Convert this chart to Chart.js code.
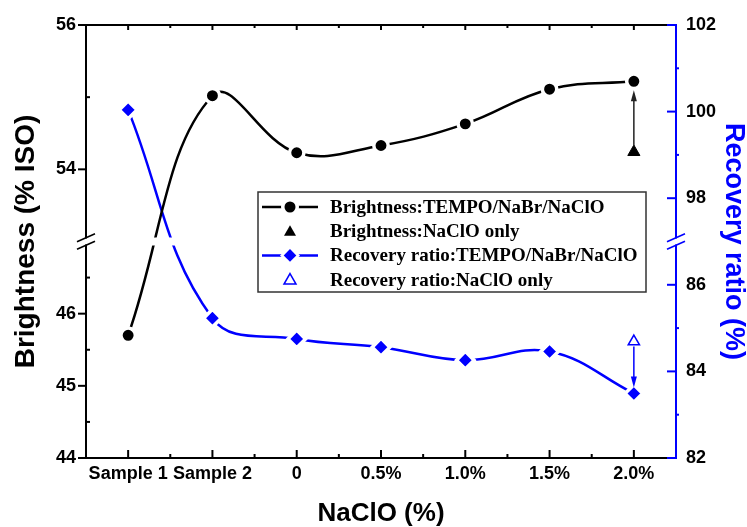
<!DOCTYPE html>
<html>
<head>
<meta charset="utf-8">
<script src="https://cdn.jsdelivr.net/npm/chart.js@4.4.1/dist/chart.umd.min.js"></script>
<style>
  html, body { margin: 0; padding: 0; background: #fff; }
  canvas { display: block; }
</style>
</head>
<body>
<canvas id="grafico" width="747" height="527"></canvas>
<script>
// categorías del eje X
const categorias = ['Sample 1', 'Sample 2', '0', '0.5%', '1.0%', '1.5%', '2.0%'];
// Brightness (% ISO)
const brilloTempo = [45.7, 55.02, 54.23, 54.33, 54.63, 55.11, 55.22];
const brilloNaClO = [null, null, null, null, null, null, 54.24];
// Recovery ratio (%)
const recuperacionTempo = [100.04, 85.23, 84.75, 84.56, 84.26, 84.46, 83.49];
const recuperacionNaClO = [null, null, null, null, null, null, 84.69];
// marcas de los ejes
const ticksIzq = [44, 45, 46, 54, 56];
const ticksIzqMenores = [44.5, 45.5, 46.5, 55];
const ticksDer = [82, 84, 86, 98, 100, 102];
const ticksDerMenores = [83, 85, 99, 101];
// tramos de los ejes cortados
const tramoIzq = [[44, 47], [53, 56]];
const tramoDer = [[82, 87], [97, 102]];

const AZUL = '#0000ff';

function aEje(v, tramos) {
    if (v === null) return null;
    const [a, b] = tramos;
    return v <= a[1] ? v - a[0] : (a[1] - a[0]) + (v - b[0]);
}
function desdeEje(d, tramos) {
    const [a, b] = tramos;
    const corte = a[1] - a[0];
    return d <= corte + 1e-9 ? a[0] + d : b[0] + (d - corte);
}
function largo(tramos) {
    return (tramos[0][1] - tramos[0][0]) + (tramos[1][1] - tramos[1][0]);
}

function linea(ctx, x1, y1, x2, y2) {
    ctx.beginPath();
    ctx.moveTo(x1, y1);
    ctx.lineTo(x2, y2);
    ctx.stroke();
}
function flecha(ctx, x, yDesde, yPunta, color) {
    const dir = yPunta < yDesde ? -1 : 1;
    ctx.strokeStyle = color;
    ctx.fillStyle = color;
    ctx.lineWidth = 1.5;
    linea(ctx, x, yDesde, x, yPunta - dir * 8);
    ctx.beginPath();
    ctx.moveTo(x, yPunta);
    ctx.lineTo(x - 3, yPunta - dir * 11);
    ctx.lineTo(x + 3, yPunta - dir * 11);
    ctx.closePath();
    ctx.fill();
}

// ejes, marcas, corte y flechas
const pluginEjes = {
    id: 'ejes',
    afterDatasetsDraw(chart) {
        const { ctx, chartArea: ca, scales: { x, y, y1 } } = chart;
        const yCorte = y.getPixelForValue(tramoIzq[0][1] - tramoIzq[0][0]);
        ctx.save();
        // hueco del corte
        ctx.fillStyle = '#fff';
        ctx.fillRect(ca.left + 1, yCorte - 4, ca.width - 2, 8);

        // flechas
        const i = categorias.length - 1;
        const px = x.getPixelForValue(i);
        const yCirc = y.getPixelForValue(aEje(brilloTempo[i], tramoIzq));
        const yTri = y.getPixelForValue(aEje(brilloNaClO[i], tramoIzq));
        flecha(ctx, px, yTri - 6, yCirc + 9, '#222');
        const yDiam = y1.getPixelForValue(aEje(recuperacionTempo[i], tramoDer));
        const yTri2 = y1.getPixelForValue(aEje(recuperacionNaClO[i], tramoDer));
        flecha(ctx, px, yTri2 + 5, yDiam - 6, AZUL);

        // marco
        ctx.lineWidth = 2;
        ctx.lineCap = 'square';
        ctx.strokeStyle = '#000';
        linea(ctx, ca.left, ca.top, ca.right, ca.top);
        linea(ctx, ca.left, ca.bottom, ca.right, ca.bottom);
        linea(ctx, ca.left, ca.top, ca.left, yCorte - 4);
        linea(ctx, ca.left, yCorte + 4, ca.left, ca.bottom);
        ctx.lineCap = 'butt';

        // marcas X
        for (let k = 0; k < categorias.length; k++) {
            const p = x.getPixelForValue(k);
            linea(ctx, p, ca.bottom, p, ca.bottom - 8);
            linea(ctx, p, ca.top, p, ca.top + 5);
            if (k > 0) {
                const m = x.getPixelForValue(k - 0.5);
                linea(ctx, m, ca.bottom, m, ca.bottom - 4);
                linea(ctx, m, ca.top, m, ca.top + 3);
            }
        }
        // marcas Y izquierda
        ticksIzq.forEach(v => {
            const p = y.getPixelForValue(aEje(v, tramoIzq));
            linea(ctx, ca.left - 8, p, ca.left, p);
        });
        ticksIzqMenores.forEach(v => {
            const p = y.getPixelForValue(aEje(v, tramoIzq));
            linea(ctx, ca.left, p, ca.left + 4, p);
        });

        // eje derecho azul
        ctx.strokeStyle = AZUL;
        ctx.lineCap = 'square';
        linea(ctx, ca.right, ca.top, ca.right, yCorte - 4);
        linea(ctx, ca.right, yCorte + 4, ca.right, ca.bottom);
        ctx.lineCap = 'butt';
        ticksDer.forEach(v => {
            const p = y1.getPixelForValue(aEje(v, tramoDer));
            linea(ctx, ca.right - 9, p, ca.right, p);
        });
        ticksDerMenores.forEach(v => {
            const p = y1.getPixelForValue(aEje(v, tramoDer));
            linea(ctx, ca.right, p, ca.right + 3, p);
        });

        // barras del corte
        ctx.lineWidth = 1.5;
        [[ca.left, '#000'], [ca.right, AZUL]].forEach(([ax, col]) => {
            ctx.strokeStyle = col;
            [-3.7, 3.7].forEach(off => {
                linea(ctx, ax - 9, yCorte + off + 4, ax + 9, yCorte + off - 4);
            });
        });
        ctx.restore();
    }
};

// leyenda dibujada a mano
function marcador(ctx, tipo, x, y) {
    ctx.save();
    ctx.lineWidth = 1.5;
    if (tipo === 'circulo') {
        ctx.fillStyle = '#fff';
        ctx.beginPath(); ctx.arc(x, y, 9, 0, Math.PI * 2); ctx.fill();
        ctx.fillStyle = '#000';
        ctx.beginPath(); ctx.arc(x, y, 5.5, 0, Math.PI * 2); ctx.fill();
    } else if (tipo === 'diamante') {
        ctx.fillStyle = '#fff';
        ctx.beginPath(); ctx.moveTo(x, y - 10); ctx.lineTo(x + 10, y); ctx.lineTo(x, y + 10); ctx.lineTo(x - 10, y); ctx.fill();
        ctx.fillStyle = AZUL;
        ctx.beginPath(); ctx.moveTo(x, y - 6.3); ctx.lineTo(x + 6.3, y); ctx.lineTo(x, y + 6.3); ctx.lineTo(x - 6.3, y); ctx.fill();
    } else {
        ctx.beginPath();
        ctx.moveTo(x, y - 6); ctx.lineTo(x + 6, y + 4.5); ctx.lineTo(x - 6, y + 4.5); ctx.closePath();
        if (tipo === 'triangulo') { ctx.fillStyle = '#000'; ctx.fill(); }
        else { ctx.fillStyle = '#fff'; ctx.fill(); ctx.strokeStyle = AZUL; ctx.stroke(); }
    }
    ctx.restore();
}
const filasLeyenda = [
    ['Brightness:TEMPO/NaBr/NaClO', '#000', true, 'circulo'],
    ['Brightness:NaClO only', '#000', false, 'triangulo'],
    ['Recovery ratio:TEMPO/NaBr/NaClO', AZUL, true, 'diamante'],
    ['Recovery ratio:NaClO only', AZUL, false, 'abierto']
];
const pluginLeyenda = {
    id: 'leyenda',
    afterDraw(chart) {
        const ctx = chart.ctx;
        const caja = { x: 258, y: 192, w: 388, h: 100 };
        ctx.save();
        ctx.fillStyle = '#fff';
        ctx.fillRect(caja.x, caja.y, caja.w, caja.h);
        ctx.strokeStyle = '#333';
        ctx.lineWidth = 1.5;
        ctx.strokeRect(caja.x, caja.y, caja.w, caja.h);
        ctx.font = 'bold 19px "Liberation Serif", "Times New Roman", serif';
        ctx.textBaseline = 'middle';
        filasLeyenda.forEach(([texto, color, conLinea, tipo], i) => {
            const yf = caja.y + 15 + i * 24.2;
            if (conLinea) {
                ctx.strokeStyle = color;
                ctx.lineWidth = 2.5;
                linea(ctx, caja.x + 4, yf, caja.x + 60, yf);
            }
            marcador(ctx, tipo, caja.x + 32, yf);
            ctx.fillStyle = '#000';
            ctx.fillText(texto, caja.x + 72, yf + 1);
        });
        ctx.restore();
    }
};

Chart.defaults.font.family = '"Liberation Sans", Arial, sans-serif';
Chart.defaults.font.weight = 'bold';
Chart.defaults.color = '#000';

const ctx = document.getElementById('grafico').getContext('2d');
new Chart(ctx, {
    type: 'line',
    data: {
        labels: categorias,
        datasets: [{
            label: 'Brightness:TEMPO/NaBr/NaClO',
            data: brilloTempo.map(v => aEje(v, tramoIzq)),
            yAxisID: 'y',
            borderColor: '#000',
            borderWidth: 2.5,
            tension: 0.4,
            pointStyle: 'circle',
            pointRadius: 7.2,
            pointBackgroundColor: '#000',
            pointBorderColor: '#fff',
            pointBorderWidth: 3.5
        }, {
            label: 'Brightness:NaClO only',
            data: brilloNaClO.map(v => aEje(v, tramoIzq)),
            yAxisID: 'y',
            showLine: false,
            pointStyle: 'triangle',
            pointRadius: 7,
            pointBackgroundColor: '#000',
            pointBorderColor: '#000',
            pointBorderWidth: 1
        }, {
            label: 'Recovery ratio:TEMPO/NaBr/NaClO',
            data: recuperacionTempo.map(v => aEje(v, tramoDer)),
            yAxisID: 'y1',
            borderColor: AZUL,
            borderWidth: 2.5,
            tension: 0.4,
            pointStyle: 'rectRot',
            pointRadius: 8.8,
            pointBackgroundColor: AZUL,
            pointBorderColor: '#fff',
            pointBorderWidth: 3.5
        }, {
            label: 'Recovery ratio:NaClO only',
            data: recuperacionNaClO.map(v => aEje(v, tramoDer)),
            yAxisID: 'y1',
            showLine: false,
            pointStyle: 'triangle',
            pointRadius: 6.5,
            pointBackgroundColor: '#fff',
            pointBorderColor: AZUL,
            pointBorderWidth: 1.5
        }]
    },
    options: {
        responsive: false,
        animation: false,
        layout: { padding: { top: 25, left: 0, right: 0, bottom: 0 } },
        plugins: { legend: { display: false }, tooltip: { enabled: false } },
        scales: {
            x: {
                type: 'category',
                offset: true,
                grid: { display: false, drawTicks: false },
                border: { display: false },
                ticks: { font: { size: 18, weight: 'bold' }, color: '#000', padding: 5, autoSkip: false, maxRotation: 0 },
                title: { display: true, text: 'NaClO (%)', color: '#000', font: { size: 26, weight: 'bold', lineHeight: 1 }, padding: { top: 0, bottom: 0 } },
                afterFit: s => { s.height = 69; }
            },
            y: {
                position: 'left',
                min: 0,
                max: largo(tramoIzq),
                grid: { display: false, drawTicks: false },
                border: { display: false },
                afterBuildTicks: s => { s.ticks = ticksIzq.map(v => ({ value: aEje(v, tramoIzq) })); },
                ticks: {
                    font: { size: 18, weight: 'bold' }, color: '#000', padding: 10,
                    callback: v => String(Math.round(desdeEje(v, tramoIzq) * 10) / 10)
                },
                title: { display: true, text: 'Brightness (% ISO)', color: '#000', font: { size: 28, weight: 'bold', lineHeight: 1 }, padding: { top: 12, bottom: 0 } },
                afterFit: s => { s.width = 86; }
            },
            y1: {
                position: 'right',
                min: 0,
                max: largo(tramoDer),
                grid: { display: false, drawTicks: false, drawOnChartArea: false },
                border: { display: false },
                afterBuildTicks: s => { s.ticks = ticksDer.map(v => ({ value: aEje(v, tramoDer) })); },
                ticks: {
                    font: { size: 18, weight: 'bold' }, color: '#000', padding: 10,
                    callback: v => String(Math.round(desdeEje(v, tramoDer) * 10) / 10)
                },
                title: { display: true, text: 'Recovery ratio (%)', color: AZUL, font: { size: 27, weight: 'bold', lineHeight: 1 }, padding: { top: 0, bottom: 0 } },
                afterFit: s => { s.width = 71; }
            }
        }
    },
    plugins: [pluginEjes, pluginLeyenda]
});
</script>
</body>
</html>
